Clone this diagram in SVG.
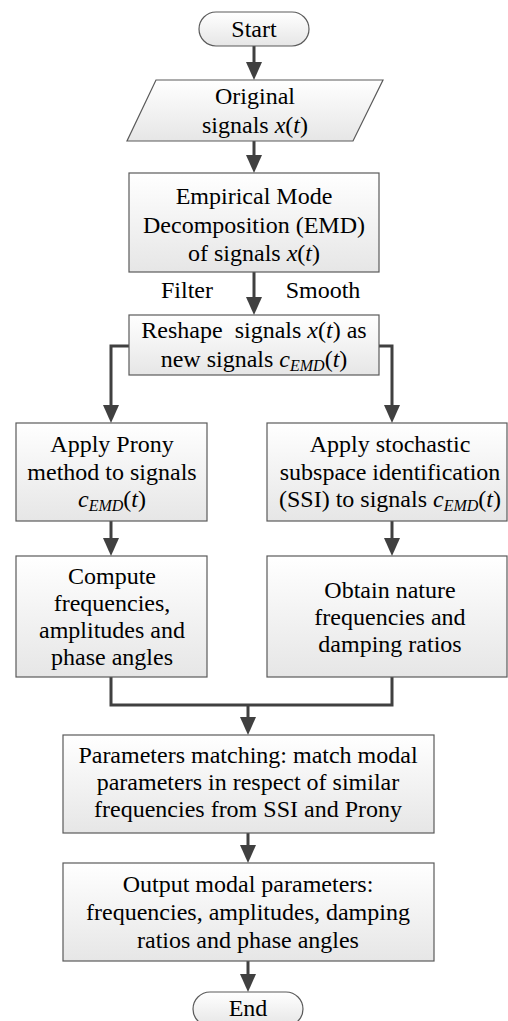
<svg xmlns="http://www.w3.org/2000/svg" width="508" height="1021" viewBox="0 0 508 1021">
<style>
.t{font-family:'Liberation Serif','DejaVu Serif',serif;font-size:24px;fill:#000;text-anchor:middle}
.i{font-style:italic}
.s{font-style:italic;font-size:16px}
.box{fill:url(#g);stroke:#5a5a5a;stroke-width:1.2}
.ln{fill:none;stroke:#404040;stroke-width:3}
.ar{marker-end:url(#ah)}
</style>
<defs>
<linearGradient id="g" x1="0" y1="0" x2="0" y2="1"><stop offset="0" stop-color="#ffffff"/><stop offset="1" stop-color="#e6e6e6"/></linearGradient>
<marker id="ah" markerUnits="userSpaceOnUse" markerWidth="18" markerHeight="16" viewBox="0 0 18 16" refX="8" refY="8" orient="auto"><path d="M0,0 L18,8 L0,16 z" fill="#404040"/></marker>
</defs>
<rect width="508" height="1021" fill="#fff"/>
<g id="connectors">
<path class="ln ar" d="M254,46 V70"/>
<path class="ln ar" d="M254,141 V163"/>
<path class="ln ar" d="M254,272 V305"/>
<path class="ln ar" d="M129,346 H111 V413"/>
<path class="ln ar" d="M379,346 H392 V413"/>
<path class="ln ar" d="M111,521 V546"/>
<path class="ln ar" d="M392,521 V546"/>
<path class="ln" d="M111,677 V705 H392 V677"/>
<path class="ln ar" d="M248,705 V725"/>
<path class="ln ar" d="M248,833 V853"/>
<path class="ln ar" d="M248,961 V982"/>
</g>
<g font-family="Liberation Serif, DejaVu Serif, serif">
<g id="start"><rect class="box" x="199" y="12" width="110" height="34" rx="17"/><text class="t" x="254" y="37">Start</text></g>
<g id="original"><path class="box" d="M156,80 H383 L353,141 H127 Z"/><text class="t" x="255" y="104">Original</text><text class="t" x="255" y="133">signals <tspan class="i">x</tspan>(<tspan class="i">t</tspan>)</text></g>
<g id="emd"><rect class="box" x="129" y="173" width="250" height="99"/><text class="t" x="254" y="204">Empirical Mode</text><text class="t" x="254" y="233">Decomposition (EMD)</text><text class="t" x="254" y="261">of signals <tspan class="i">x</tspan>(<tspan class="i">t</tspan>)</text></g>
<g id="labels"><text class="t" x="187" y="298">Filter</text><text class="t" x="323" y="298">Smooth</text></g>
<g id="reshape"><rect class="box" x="129" y="315" width="250" height="60"/><text class="t" x="254" y="338">Reshape <tspan dx="6">signals</tspan> <tspan class="i">x</tspan>(<tspan class="i">t</tspan>) as</text><text class="t" x="254" y="367">new signals <tspan class="i">c</tspan><tspan class="s" dy="4">EMD</tspan><tspan dy="-4">(</tspan><tspan class="i">t</tspan>)</text></g>
<g id="prony"><rect class="box" x="16" y="423" width="191" height="98"/><text class="t" x="112" y="452">Apply Prony</text><text class="t" x="112" y="480">method to signals</text><text class="t" x="112" y="507"><tspan class="i">c</tspan><tspan class="s" dy="4">EMD</tspan><tspan dy="-4">(</tspan><tspan class="i">t</tspan>)</text></g>
<g id="ssi"><rect class="box" x="267" y="423" width="240" height="98"/><text class="t" x="390" y="452">Apply stochastic</text><text class="t" x="390" y="480">subspace identification</text><text class="t" x="390" y="507">(SSI) to signals <tspan class="i">c</tspan><tspan class="s" dy="4">EMD</tspan><tspan dy="-4">(</tspan><tspan class="i">t</tspan>)</text></g>
<g id="compute"><rect class="box" x="16" y="556" width="191" height="121"/><text class="t" x="112" y="584">Compute</text><text class="t" x="112" y="611">frequencies,</text><text class="t" x="112" y="638">amplitudes and</text><text class="t" x="112" y="665">phase angles</text></g>
<g id="obtain"><rect class="box" x="267" y="556" width="240" height="121"/><text class="t" x="390" y="598">Obtain nature</text><text class="t" x="390" y="625">frequencies and</text><text class="t" x="390" y="652">damping ratios</text></g>
<g id="matching"><rect class="box" x="63" y="735" width="371" height="98"/><text class="t" x="248" y="763">Parameters matching: match modal</text><text class="t" x="248" y="790">parameters in respect of similar</text><text class="t" x="248" y="817">frequencies from SSI and Prony</text></g>
<g id="output"><rect class="box" x="63" y="863" width="371" height="98"/><text class="t" x="248" y="892">Output modal parameters:</text><text class="t" x="248" y="920">frequencies, amplitudes, damping</text><text class="t" x="248" y="948">ratios and phase angles</text></g>
<g id="end"><rect class="box" x="193" y="992" width="110" height="34" rx="17"/><text class="t" x="248" y="1016">End</text></g>
</g>
</svg>
